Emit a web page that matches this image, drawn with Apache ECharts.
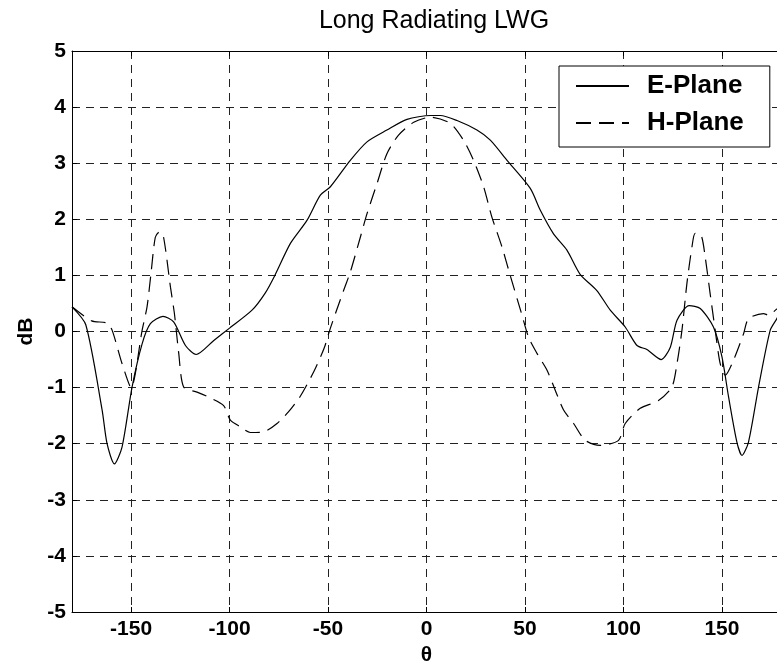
<!DOCTYPE html>
<html>
<head>
<meta charset="utf-8">
<script src="https://cdn.jsdelivr.net/npm/echarts@6/dist/echarts.min.js"></script>
<style>
html,body{margin:0;padding:0;background:#fff;overflow:hidden;}
#chart{width:782px;height:672px;}
</style>
</head>
<body>
<div id="chart"></div>
<script>
// ---- data ----
const titleText = 'Long Radiating LWG';
const seriesNames = ['E-Plane', 'H-Plane'];

const thetaE = [-180, -173, -164.7, -162.2, -158.5, -154.6, -149.5, -144.4, -140.2, -133.8, -128.4, -122.4, -117, -108, -100, -88.6, -82, -77, -69.1, -60.7, -53.9, -48.8, -38.7, -30.2, -20.1, -9.9, 2, 7, 15.5, 25.6, 32.4, 40.9, 52.7, 57.8, 64.5, 71.3, 78, 86.5, 93.3, 100.9, 106.9, 111.9, 119.2, 123.8, 127.2, 133.4, 139, 145.7, 150, 153.4, 157.6, 160.2, 163.5, 168.6, 174.5, 177.9, 180];
const dbE = [0.44, 0.12, -1.4, -2.0, -2.36, -2.06, -0.99, -0.22, 0.14, 0.27, 0.17, -0.25, -0.41, -0.16, 0.06, 0.38, 0.68, 1.0, 1.57, 1.98, 2.43, 2.58, 3.05, 3.38, 3.59, 3.78, 3.85, 3.85, 3.76, 3.59, 3.41, 3.05, 2.55, 2.16, 1.74, 1.45, 1.02, 0.73, 0.38, 0.08, -0.25, -0.32, -0.5, -0.28, 0.2, 0.46, 0.41, 0.08, -0.45, -1.17, -1.97, -2.21, -1.97, -0.99, 0.02, 0.23, 0.38];

const thetaH = [-180, -170, -162.2, -159.6, -154.6, -150, -144.4, -141.9, -139.9, -137.7, -135.5, -133.5, -130, -128, -125.8, -123.3, -116.5, -110.6, -103, -99.6, -94.5, -89.4, -82.7, -75.9, -70, -64, -57, -52, -48.8, -42.1, -38.7, -33.6, -30.2, -25.1, -20.1, -14.2, -6.5, 2, 12.1, 18.8, 23.9, 29, 33.2, 38.3, 42.5, 48.5, 51.8, 56.1, 61.2, 65.4, 69.6, 74.7, 80.6, 88.2, 97.5, 100.9, 108.5, 117.8, 124.6, 127.2, 129.7, 132.2, 134.8, 136.4, 139.5, 141.5, 144, 146.6, 149.1, 151.7, 155.9, 161, 163.5, 171.1, 173.7, 177.9, 180];
const dbH = [0.44, 0.19, 0.15, 0.02, -0.57, -1.0, 0.02, 0.44, 1.03, 1.68, 1.78, 1.68, 0.79, 0.32, -0.39, -0.99, -1.08, -1.17, -1.32, -1.58, -1.70, -1.80, -1.79, -1.64, -1.43, -1.15, -0.7, -0.3, 0.06, 0.73, 1.06, 1.68, 2.1, 2.64, 3.17, 3.5, 3.73, 3.82, 3.71, 3.41, 3.05, 2.58, 2.04, 1.51, 1.0, 0.29, -0.1, -0.39, -0.69, -1.05, -1.4, -1.64, -1.94, -2.03, -1.94, -1.64, -1.37, -1.23, -0.99, -0.57, 0.02, 0.85, 1.51, 1.75, 1.71, 1.33, 0.68, 0.02, -0.57, -0.78, -0.51, -0.04, 0.23, 0.32, 0.29, 0.4, 0.42];

const xMin = -180, xMax = 180;
const yMin = -5, yMax = 5, yStep = 1;
const xLabelName = 'θ';
const yLabelName = 'dB';

// ---- chart ----
const FONT = '"Liberation Sans", Arial, Helvetica, sans-serif';
const zip = (a, b) => a.map((v, i) => [v, b[i]]);
const gridDash = [8, 6];

const chart = echarts.init(document.getElementById('chart'), null, {renderer: 'canvas'});
const tickStyle = {inside: true, length: 5, lineStyle: {color: '#000', width: 1}};

chart.setOption({
  animation: false,
  backgroundColor: '#fff',
  title: {
    text: titleText, left: 429, textAlign: 'center', top: 4,
    textStyle: {fontFamily: FONT, fontSize: 25, fontWeight: 'normal', color: '#000'}
  },
  legend: {
    orient: 'vertical', left: 559, top: 66,
    padding: [7, 26, 11, 16],
    itemWidth: 53, itemHeight: 24, itemGap: 11,
    borderColor: '#000', borderWidth: 1, borderRadius: 0,
    backgroundColor: '#fff', selectedMode: false,
    itemStyle: {opacity: 0},
    textStyle: {fontFamily: FONT, fontSize: 26, fontWeight: 'bold', color: '#000', padding: [0, 0, 0, 13], width: 101},
    data: seriesNames
  },
  grid: {left: 72, right: 1, top: 51, bottom: 60, containLabel: false},
  xAxis: [{
    type: 'value', min: xMin, max: xMax, splitNumber: 7, minInterval: 50, maxInterval: 50,
    axisLine: {show: true, onZero: false, lineStyle: {color: '#000', width: 1}},
    axisTick: tickStyle,
    axisLabel: {showMinLabel: false, showMaxLabel: false, fontFamily: FONT, fontSize: 21, fontWeight: 'bold', color: '#000', margin: 7},
    splitLine: {show: true, lineStyle: {type: gridDash, color: '#222', width: 1}},
    name: xLabelName, nameLocation: 'middle', nameGap: 33,
    nameTextStyle: {fontFamily: FONT, fontSize: 21, fontWeight: 'bold', color: '#000'}
  }, {
    type: 'value', position: 'top', min: xMin, max: xMax, splitNumber: 7, minInterval: 50, maxInterval: 50,
    axisLine: {show: true, onZero: false, lineStyle: {color: '#000', width: 1}},
    axisTick: tickStyle, axisLabel: {show: false}, splitLine: {show: false}
  }],
  yAxis: [{
    type: 'value', min: yMin, max: yMax, interval: yStep,
    axisLine: {show: true, onZero: false, lineStyle: {color: '#000', width: 1}},
    axisTick: tickStyle,
    axisLabel: {fontFamily: FONT, fontSize: 21, fontWeight: 'bold', color: '#000', margin: 6},
    splitLine: {show: true, lineStyle: {type: gridDash, color: '#222', width: 1}},
    name: yLabelName, nameLocation: 'middle', nameGap: 30,
    nameTextStyle: {fontFamily: FONT, fontSize: 21, fontWeight: 'bold', color: '#000'}
  }],
  series: [{
    name: seriesNames[0], type: 'line', data: zip(thetaE, dbE),
    showSymbol: false, symbol: 'none', smooth: 0.25,
    lineStyle: {color: '#000', width: 1.2, type: 'solid'},
    itemStyle: {color: '#000'}
  }, {
    name: seriesNames[1], type: 'line', data: zip(thetaH, dbH),
    showSymbol: false, symbol: 'none', smooth: 0.25,
    lineStyle: {color: '#000', width: 1.2, type: [15, 8]},
    itemStyle: {color: '#000'}
  }]
});
</script>
</body>
</html>
